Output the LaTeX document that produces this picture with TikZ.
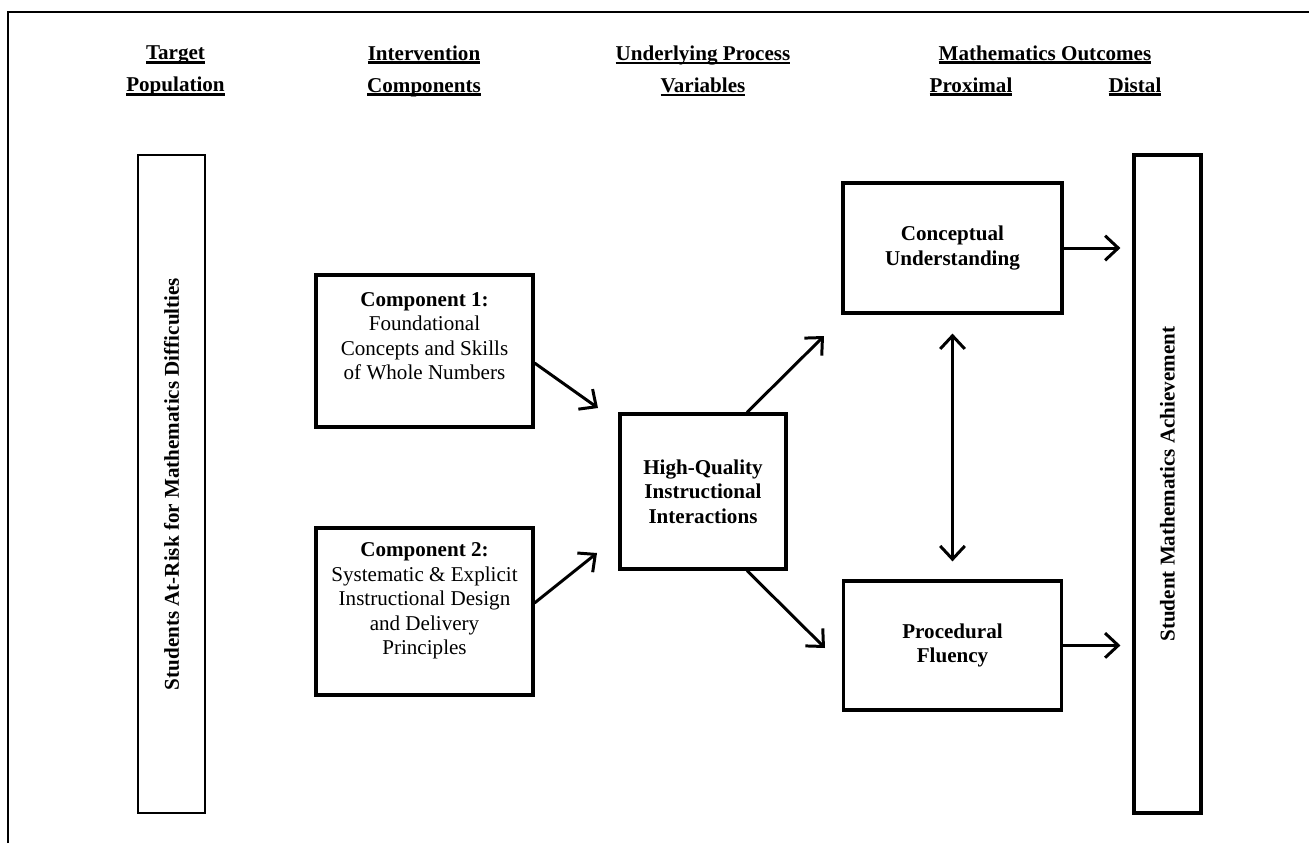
\documentclass[tikz,border=0pt]{standalone}
\usepackage{fontspec}
\setmainfont{Liberation Serif}
\usepackage{graphicx}
\usetikzlibrary{positioning,arrows.meta}
\newcommand{\hul}[1]{\setbox0=\hbox{#1}\rlap{\rule[-2.3pt]{\wd0}{1.5pt}}\box0}

\begin{document}
\begin{tikzpicture}[x=0.02cm ,y=-0.02cm ,node distance =2cm ,on grid ,
arr/.style ={-{Straight Barb[length=7.5pt,width=14pt]} ,line width=1.7pt},
darr/.style ={{Straight Barb[length=7.5pt,width=14pt]}-{Straight Barb[length=7.5pt,width=14pt]} ,line width=1.7pt},
box/.style ={rectangle ,draw ,line width=1.8pt ,minimum width=4.34cm ,inner sep=0pt},
tallbox/.style ={rectangle ,draw ,minimum width=1.34cm ,minimum height=13.16cm ,
font=\fontsize{12}{13.9}\selectfont\bfseries},
txt/.style ={align=center ,font=\fontsize{12}{13.9}\selectfont},
btxt/.style ={align=center ,font=\fontsize{12}{13.9}\selectfont\bfseries},
hdr/.style ={align=center ,font=\fontsize{12}{18.2}\selectfont\bfseries}]
\useasboundingbox (0,0) rectangle (1309,843);
\draw[line width=1pt] (8,843) -- (8,12) -- (1309,12);

% column headings
\node[hdr] (tp) at (175.5,71) {\hul{Target}\\\hul{Population}};
\node[hdr] (ic) at (424,71) {\hul{Intervention}\\\hul{Components}};
\node[hdr] (upv) at (703,71) {\hul{Underlying Process}\\\hul{Variables}};
\node[hdr ,anchor=base] (mo) at (1045,60) {\hul{Mathematics Outcomes}};
\node[hdr ,anchor=base] (prox) at (971,92) {\hul{Proximal}};
\node[hdr ,anchor=base] (dist) at (1135,92) {\hul{Distal}};

% boxes
\node[tallbox ,line width=1pt] (target) at (171.5,484) {\rotatebox{90}{Students At-Risk for Mathematics Difficulties}};
\node[box ,minimum height=3.04cm] (c1) at (424.5,351) {};
\node[box ,minimum height=3.34cm] (c2) [below =5.21cm of c1] {};
\node[txt] (c1text) at (424.5,336) {\textbf{Component 1:}\\Foundational\\Concepts and Skills\\of Whole Numbers};
\node[txt] (c2text) at (424.5,601) {\textbf{Component 2:}\\Systematic \& Explicit\\Instructional Design\\and Delivery\\Principles};
\node[box ,btxt ,minimum width=3.32cm ,minimum height=3.1cm] (hq) at (703,491.5) {High-Quality\\Instructional\\Interactions};
\node[box ,btxt ,minimum width=4.38cm ,minimum height=2.6cm] (concept) at (952.5,248) {Conceptual\\Understanding};
\node[box ,btxt ,minimum width=4.36cm ,minimum height=2.58cm] (proc) [below =7.95cm of concept] {Procedural\\Fluency};
\node[tallbox ,line width=1.8pt] (distal) at (1167.5,484) {\rotatebox{90}{Student Mathematics Achievement}};

% arrows
\coordinate (hqin1) at (598,408);
\coordinate (hqin2) at (597,553);
\coordinate (cuin) at (824,336);
\coordinate (pfin) at (825,648);
\draw[arr] ([yshift=-0.24cm]c1.east) -- (hqin1);
\draw[arr] ([yshift=0.17cm]c2.east) -- (hqin2);
\draw[arr] ([xshift=0.88cm]hq.north) -- (cuin);
\draw[arr] ([xshift=0.88cm]hq.south) -- (pfin);
\draw[arr ,shorten >=0.24cm] (concept.east) -- (concept.east -| distal.west);
\draw[arr ,shorten >=0.24cm] (proc.east) -- (proc.east -| distal.west);
\draw[darr ,shorten <=0.38cm ,shorten >=0.36cm] (concept.south) -- (proc.north);
\end{tikzpicture}
\end{document}
